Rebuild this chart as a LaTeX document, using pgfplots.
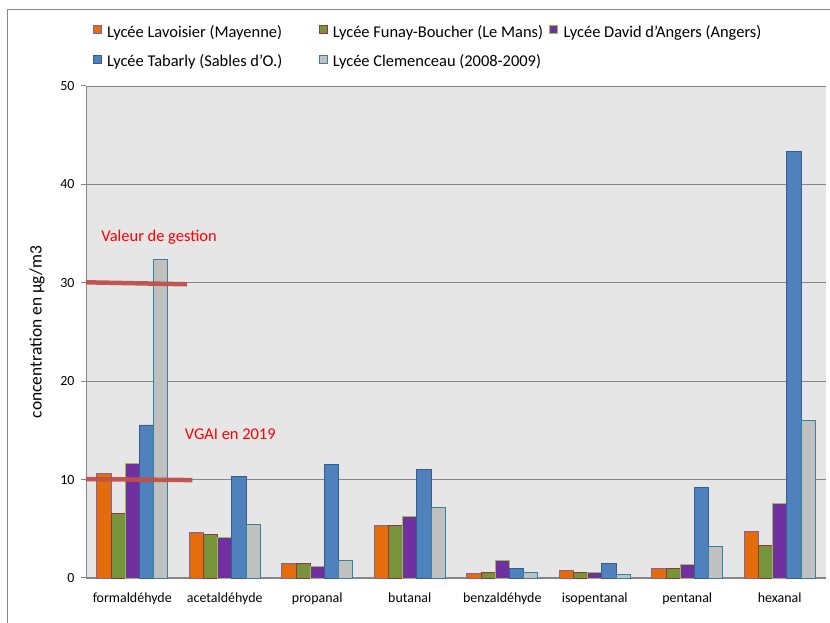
\documentclass[border=0pt]{standalone}
\usepackage{fontspec}
\setmainfont{Carlito}
\usepackage{pgfplots}
\pgfplotsset{compat=1.18}

\definecolor{cOrange}{RGB}{228,108,10}
\definecolor{cOrangeB}{RGB}{128,100,162}
\definecolor{cGreen}{RGB}{119,147,60}
\definecolor{cGreenB}{RGB}{149,55,53}
\definecolor{cPurple}{RGB}{112,48,160}
\definecolor{cPurpleB}{RGB}{155,187,89}
\definecolor{cBlue}{RGB}{79,129,189}
\definecolor{cBlueB}{RGB}{56,93,138}
\definecolor{cGray}{RGB}{192,192,192}
\definecolor{cGrayB}{RGB}{49,132,155}
\definecolor{plotbg}{RGB}{230,230,230}
\definecolor{gridc}{RGB}{134,134,134}
\definecolor{framec}{RGB}{134,134,134}
\definecolor{refline}{RGB}{192,80,77}

\begin{document}
\begin{tikzpicture}[x=1bp,y=1bp]
\useasboundingbox (0,0) rectangle (830,623);
% outer chart frame
\draw[color=framec, line width=1bp] (7,0) -- (7,613) -- (830,613);
\begin{axis}[
  at={(86bp,45bp)}, anchor=south west,
  scale only axis, width=740bp, height=492bp,
  xmin=-0.5, xmax=7.5, ymin=0, ymax=50,
  ybar=0pt, bar width=14.2bp,
  axis background/.style={fill=plotbg},
  axis x line*=bottom, axis y line*=left,
  axis line style={color=gridc, line width=1bp, -},
  ytick={0,10,...,50},
  ymajorgrids, grid style={color=gridc, line width=0.9bp},
  ytick style={color=gridc, line width=1bp},
  major tick length=5bp, tick align=outside,
  xtick={0,...,7},
  xticklabels={formaldéhyde,acetaldéhyde,propanal,butanal,benzaldéhyde,isopentanal,pentanal,hexanal},
  xtick style={draw=none},
  tick label style={font=\fontsize{14}{16}\selectfont, text=black},
  /pgf/number format/assume math mode=true,
  yticklabel style={xshift=-3bp},
  xticklabel style={yshift=-6bp},
  ylabel={concentration en µg/m3},
  ylabel style={at={(axis description cs:-0.066,0.5)}, anchor=center, font=\fontsize{17.5}{20}\selectfont},
  legend columns=3,
  legend image code/.code={\draw[#1, line width=0.8bp] (0bp,0bp) rectangle (8bp,8bp);},
  legend style={at={(axis description cs:0.0088,1.124)}, anchor=north west,
    draw=none, fill=none, inner sep=0pt, font=\fontsize{16.5}{19}\selectfont,
    column sep=0pt, row sep=14bp,
    nodes={inner sep=0pt, text height=11bp, text depth=3bp}},
  clip=false,
]
\addplot[fill=cOrange, draw=cOrangeB, line width=0.8bp] coordinates
  {(0,10.65) (1,4.6) (2,1.5) (3,5.35) (4,0.45) (5,0.75) (6,0.95) (7,4.75)};
\addlegendentry{\makebox[217bp][l]{\hspace{5.5bp}Lycée Lavoisier (Mayenne)}}
\addplot[fill=cGreen, draw=cGreenB, line width=0.8bp] coordinates
  {(0,6.55) (1,4.4) (2,1.45) (3,5.35) (4,0.55) (5,0.55) (6,0.95) (7,3.3)};
\addlegendentry{\makebox[222bp][l]{\hspace{5.5bp}Lycée Funay-Boucher (Le Mans)}}
\addplot[fill=cPurple, draw=cPurpleB, line width=0.8bp] coordinates
  {(0,11.65) (1,4.1) (2,1.2) (3,6.25) (4,1.8) (5,0.55) (6,1.35) (7,7.6)};
\addlegendentry{\hspace{5.5bp}Lycée David d'Angers (Angers)}
\addplot[fill=cBlue, draw=cBlueB, line width=0.8bp] coordinates
  {(0,15.55) (1,10.35) (2,11.55) (3,11.05) (4,1.0) (5,1.45) (6,9.2) (7,43.35)};
\addlegendentry{\makebox[217bp][l]{\hspace{5.5bp}Lycée Tabarly (Sables d'O.)}}
\addplot[fill=cGray, draw=cGrayB, line width=0.8bp] coordinates
  {(0,32.4) (1,5.45) (2,1.75) (3,7.15) (4,0.55) (5,0.4) (6,3.2) (7,16.0)};
\addlegendentry{\makebox[222bp][l]{\hspace{5.5bp}Lycée Clemenceau (2008-2009)}}

% reference levels
\addplot[sharp plot, no marks, forget plot, color=refline, line width=4.5bp, opacity=0.95]
  coordinates {(-0.5,30.05) (0.59,29.85)};
\addplot[sharp plot, no marks, forget plot, color=refline, line width=4.5bp, opacity=0.95]
  coordinates {(-0.5,10.05) (0.65,9.95)};
\node[text=red, font=\fontsize{16.5}{19}\selectfont] at (axis cs:0.29,34.6) {Valeur de gestion};
\node[text=red, font=\fontsize{16.5}{19}\selectfont] at (axis cs:1.06,14.6) {VGAI en 2019};
\end{axis}
\end{tikzpicture}
\end{document}
